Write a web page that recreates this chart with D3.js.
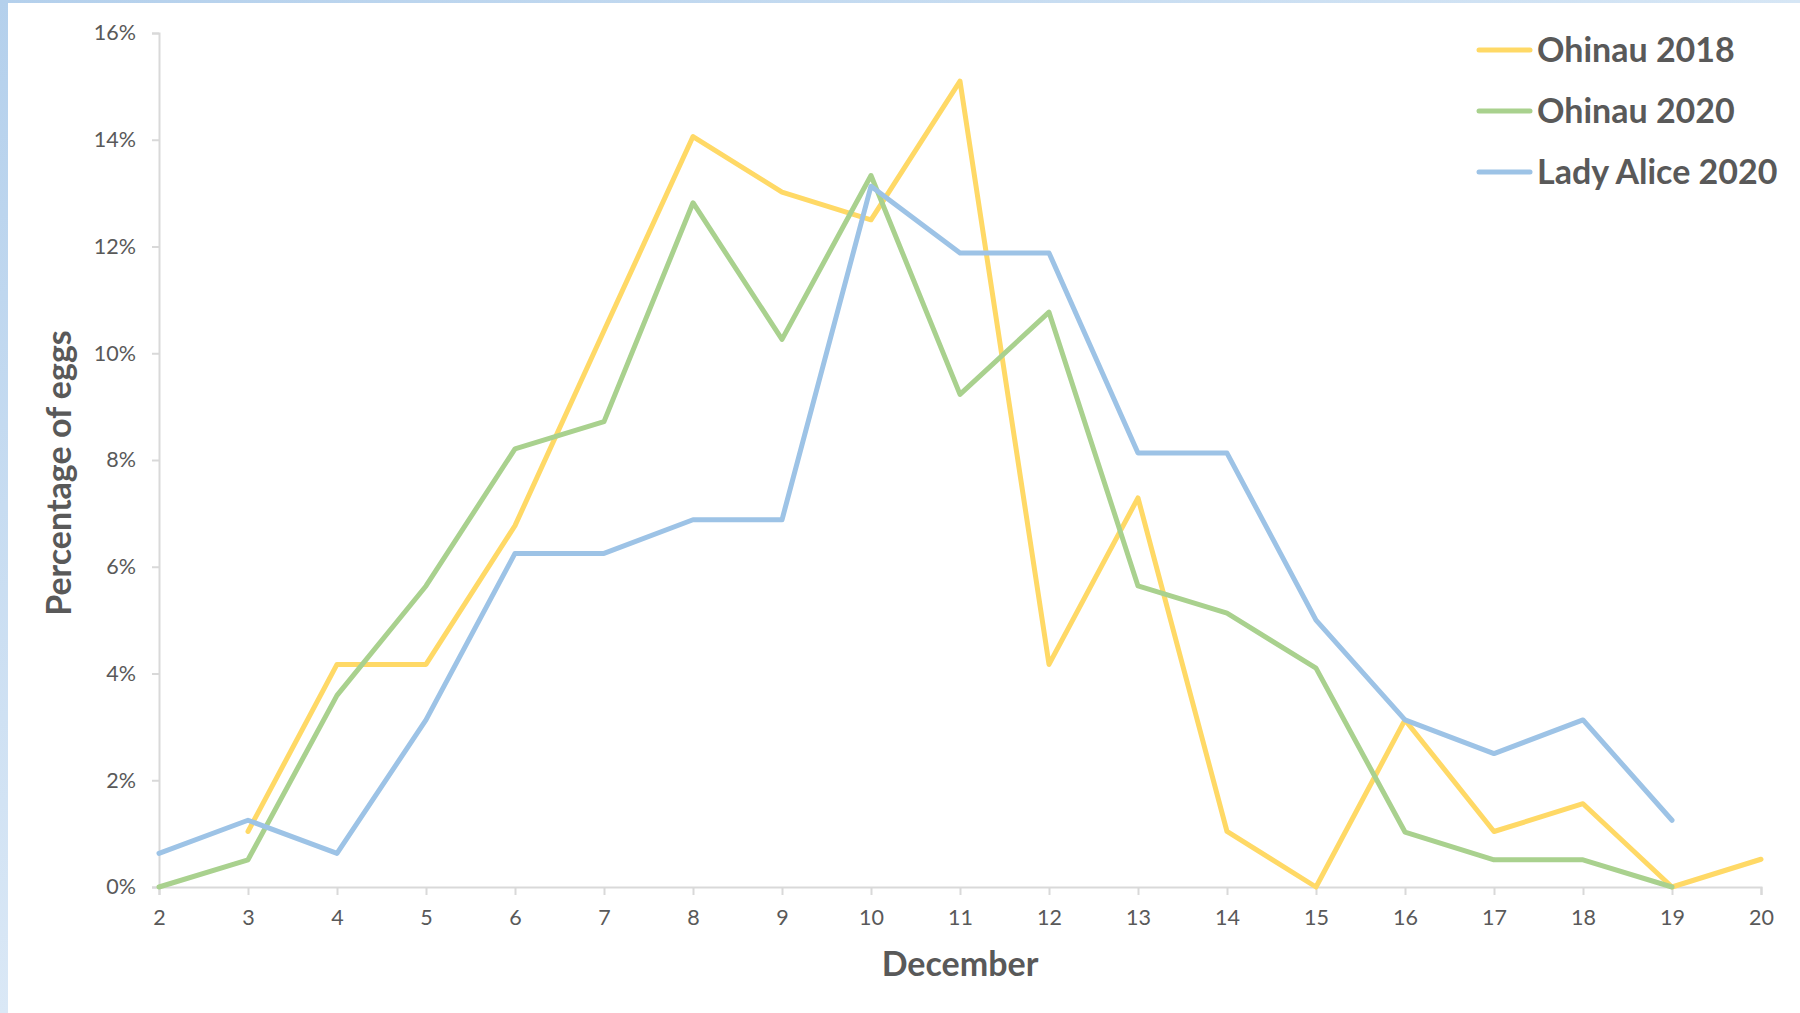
<!DOCTYPE html>
<html>
<head>
<meta charset="utf-8">
<script src="https://cdn.jsdelivr.net/npm/d3@7"></script>
<style>
  html, body { margin: 0; padding: 0; background: #ffffff; }
  svg { display: block; }
</style>
</head>
<body>
<svg id="chart" width="1800" height="1013"></svg>
<script>
// ---- data (percentage of eggs laid on each December day) ----
const days = [2, 3, 4, 5, 6, 7, 8, 9, 10, 11, 12, 13, 14, 15, 16, 17, 18, 19, 20];
const yTicks = [0, 2, 4, 6, 8, 10, 12, 14, 16];
const seriesNames = ["Ohinau 2018", "Ohinau 2020", "Lady Alice 2020"];
const seriesColors = ["#FFD966", "#A9D18E", "#9DC3E6"];
// null = no observation that day
const ohinau2018 = [null, 1.04, 4.17, 4.17, 6.77, 10.42, 14.06, 13.02, 12.50, 15.10, 4.17, 7.29, 1.04, 0.00, 3.13, 1.04, 1.56, 0.00, 0.52];
const ohinau2020 = [0.00, 0.51, 3.59, 5.64, 8.21, 8.72, 12.82, 10.26, 13.33, 9.23, 10.77, 5.64, 5.13, 4.10, 1.03, 0.51, 0.51, 0.00, null];
const ladyAlice2020 = [0.63, 1.25, 0.63, 3.13, 6.25, 6.25, 6.88, 6.88, 13.13, 11.88, 11.88, 8.13, 8.13, 5.00, 3.13, 2.50, 3.13, 1.25, null];
const seriesValues = [ohinau2018, ohinau2020, ladyAlice2020];

// ---- layout ----
const W = 1800, H = 1013;
const plot = { left: 159, right: 1761, top: 33, bottom: 887 };
const textColor = "#595959";
const axisColor = "#D9D9D9";
const font = "Lato, 'Open Sans', 'DejaVu Sans', sans-serif";

const svg = d3.select("#chart");

// frame (light blue edges like the slide background)
const defs = svg.append("defs");
const gLeft = defs.append("linearGradient").attr("id", "gl").attr("x1", 0).attr("y1", 0).attr("x2", 0).attr("y2", 1);
gLeft.append("stop").attr("offset", "0%").attr("stop-color", "#B4D0EC");
gLeft.append("stop").attr("offset", "100%").attr("stop-color", "#DAE8F6");
const gTop = defs.append("linearGradient").attr("id", "gt").attr("x1", 0).attr("y1", 0).attr("x2", 1).attr("y2", 0);
gTop.append("stop").attr("offset", "0%").attr("stop-color", "#B4D0EC");
gTop.append("stop").attr("offset", "100%").attr("stop-color", "#D6E6F5");
svg.append("rect").attr("x", 0).attr("y", 0).attr("width", W).attr("height", 3).attr("fill", "url(#gt)");
svg.append("rect").attr("x", 0).attr("y", 0).attr("width", 8).attr("height", H).attr("fill", "url(#gl)");

// scales
const x = d3.scaleLinear().domain([d3.min(days), d3.max(days)]).range([plot.left, plot.right]);
const y = d3.scaleLinear().domain([0, 16]).range([plot.bottom, plot.top]);

// y axis
const yAxis = d3.axisLeft(y).tickValues(yTicks).tickFormat(d => d + "%").tickSize(7).tickPadding(16);
const gy = svg.append("g").attr("transform", `translate(${plot.left},0)`).call(yAxis);
gy.select(".domain").attr("stroke", axisColor).attr("stroke-width", 2);
gy.selectAll(".tick line").attr("stroke", axisColor).attr("stroke-width", 2);
gy.selectAll(".tick text").attr("fill", textColor).style("font-family", font).style("font-size", "21.5px");

// x axis
const xAxis = d3.axisBottom(x).tickValues(days).tickFormat(d3.format("d")).tickSize(8).tickPadding(15);
const gx = svg.append("g").attr("transform", `translate(0,${plot.bottom})`).call(xAxis);
gx.select(".domain").attr("stroke", axisColor).attr("stroke-width", 2);
gx.selectAll(".tick line").attr("stroke", axisColor).attr("stroke-width", 2);
gx.selectAll(".tick text").attr("fill", textColor).style("font-family", font).style("font-size", "21.5px");

// lines
const line = d3.line()
  .defined(d => d.v !== null)
  .x(d => x(d.day))
  .y(d => y(d.v));

seriesValues.forEach((vals, i) => {
  const pts = days.map((day, k) => ({ day, v: vals[k] }));
  svg.append("path")
    .datum(pts)
    .attr("d", line)
    .attr("fill", "none")
    .attr("stroke", seriesColors[i])
    .attr("stroke-width", 5)
    .attr("stroke-linejoin", "round")
    .attr("stroke-linecap", "round");
});

// axis titles
svg.append("text")
  .attr("x", 960).attr("y", 976)
  .attr("text-anchor", "middle")
  .attr("fill", textColor)
  .style("font-family", font).style("font-weight", 700).style("font-size", "34px")
  .text("December");

svg.append("text")
  .attr("transform", "translate(71,473) rotate(-90)")
  .attr("text-anchor", "middle")
  .attr("fill", textColor)
  .style("font-family", font).style("font-weight", 700).style("font-size", "34px")
  .text("Percentage of eggs");

// legend
const legend = svg.append("g");
seriesNames.forEach((name, i) => {
  const cy = 50 + i * 61;
  legend.append("line")
    .attr("x1", 1479).attr("x2", 1530).attr("y1", cy).attr("y2", cy)
    .attr("stroke", seriesColors[i]).attr("stroke-width", 5).attr("stroke-linecap", "round");
  legend.append("text")
    .attr("x", 1537).attr("y", cy + 12)
    .attr("fill", textColor)
    .style("font-family", font).style("font-weight", 700).style("font-size", "34px")
    .text(name);
});
</script>
</body>
</html>
